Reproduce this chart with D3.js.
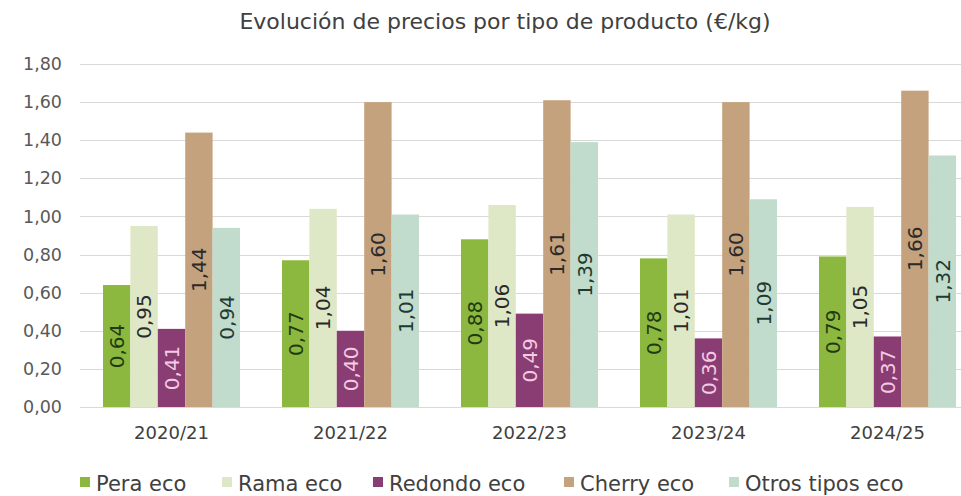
<!DOCTYPE html>
<html>
<head>
<meta charset="utf-8">
<script src="https://cdn.jsdelivr.net/npm/d3@7"></script>
<style>
  html, body { margin: 0; padding: 0; background: #fff; }
  svg { display: block; font-family: "DejaVu Sans", sans-serif; }
</style>
</head>
<body>
<svg id="chart" width="961" height="496"></svg>
<script>
const title = "Evolución de precios por tipo de producto (€/kg)";
const categories = ["2020/21", "2021/22", "2022/23", "2023/24", "2024/25"];
const seriesNames = ["Pera eco", "Rama eco", "Redondo eco", "Cherry eco", "Otros tipos eco"];
const peraEco = [0.64, 0.77, 0.88, 0.78, 0.79];
const ramaEco = [0.95, 1.04, 1.06, 1.01, 1.05];
const redondoEco = [0.41, 0.40, 0.49, 0.36, 0.37];
const cherryEco = [1.44, 1.60, 1.61, 1.60, 1.66];
const otrosEco = [0.94, 1.01, 1.39, 1.09, 1.32];
const yTicks = [0, 0.2, 0.4, 0.6, 0.8, 1.0, 1.2, 1.4, 1.6, 1.8];

const seriesValues = [peraEco, ramaEco, redondoEco, cherryEco, otrosEco];
const colors = ["#8cb83f", "#dfe8c6", "#8a3d73", "#c4a27d", "#c1dccc"];
const labelColors = ["#1f3a12", "#2a2a2a", "#f3cbe3", "#2a2a2a", "#1f3a30"];

const svg = d3.select("#chart");
const fmt = v => d3.format(".2f")(v).replace(".", ",");

const x = d3.scaleBand().domain(categories).range([82, 977]).paddingInner(0).paddingOuter(0);
const groupInner = 137;
const xs = d3.scaleBand().domain(seriesNames).range([0, groupInner]).padding(0);
const y = d3.scaleLinear().domain([0, 1.8]).range([407, 64]);

// title
svg.append("text")
  .attr("x", 505).attr("y", 29)
  .attr("text-anchor", "middle")
  .attr("font-size", 22)
  .attr("fill", "#404040")
  .text(title);

// gridlines
svg.append("g").selectAll("line").data(yTicks).join("line")
  .attr("x1", 80).attr("x2", 961)
  .attr("y1", d => Math.round(y(d)) + 0.5).attr("y2", d => Math.round(y(d)) + 0.5)
  .attr("stroke", "#d9d9d9").attr("stroke-width", 1);

// y axis
const yAxis = d3.axisLeft(y).tickValues(yTicks).tickFormat(fmt).tickSize(0).tickPadding(0);
const gy = svg.append("g").attr("transform", "translate(62,0)").call(yAxis);
gy.select(".domain").remove();
gy.selectAll("text").attr("font-size", 17.5).attr("fill", "#595959").attr("font-family", "DejaVu Sans, sans-serif");

// x axis
const xAxis = d3.axisBottom(x).tickSize(0).tickPadding(0);
const gx = svg.append("g").attr("transform", "translate(0,426)").call(xAxis);
gx.select(".domain").remove();
gx.selectAll("text").attr("font-size", 18).attr("fill", "#404040").attr("dy", "0.72em").attr("font-family", "DejaVu Sans, sans-serif");

// bars
const offset = (x.bandwidth() - groupInner) / 2;
const groups = svg.append("g").selectAll("g").data(categories).join("g")
  .attr("transform", c => `translate(${x(c) + offset},0)`);

seriesNames.forEach((s, si) => {
  groups.append("rect")
    .attr("x", xs(s))
    .attr("width", xs.bandwidth())
    .attr("y", (c, ci) => y(seriesValues[si][ci]))
    .attr("height", (c, ci) => y(0) - y(seriesValues[si][ci]))
    .attr("fill", colors[si]);
  groups.append("text")
    .attr("transform", (c, ci) => {
      const cx = xs(s) + xs.bandwidth() / 2;
      const cy = (y(seriesValues[si][ci]) + y(0)) / 2;
      return `translate(${cx},${cy}) rotate(-90)`;
    })
    .attr("text-anchor", "middle")
    .attr("dy", "0.36em")
    .attr("font-size", 20)
    .attr("fill", labelColors[si])
    .text((c, ci) => fmt(seriesValues[si][ci]));
});

// legend
const legendX = [80, 222, 373, 564, 729];
const lg = svg.append("g").selectAll("g").data(seriesNames).join("g")
  .attr("transform", (d, i) => `translate(${legendX[i]},483)`);
lg.append("rect").attr("x", 0).attr("y", -6).attr("width", 10).attr("height", 10)
  .attr("fill", (d, i) => colors[i]);
lg.append("text").attr("x", 16).attr("y", 0).attr("dy", "0.36em")
  .attr("font-size", 21).attr("fill", "#404040")
  .text(d => d);
</script>
</body>
</html>
